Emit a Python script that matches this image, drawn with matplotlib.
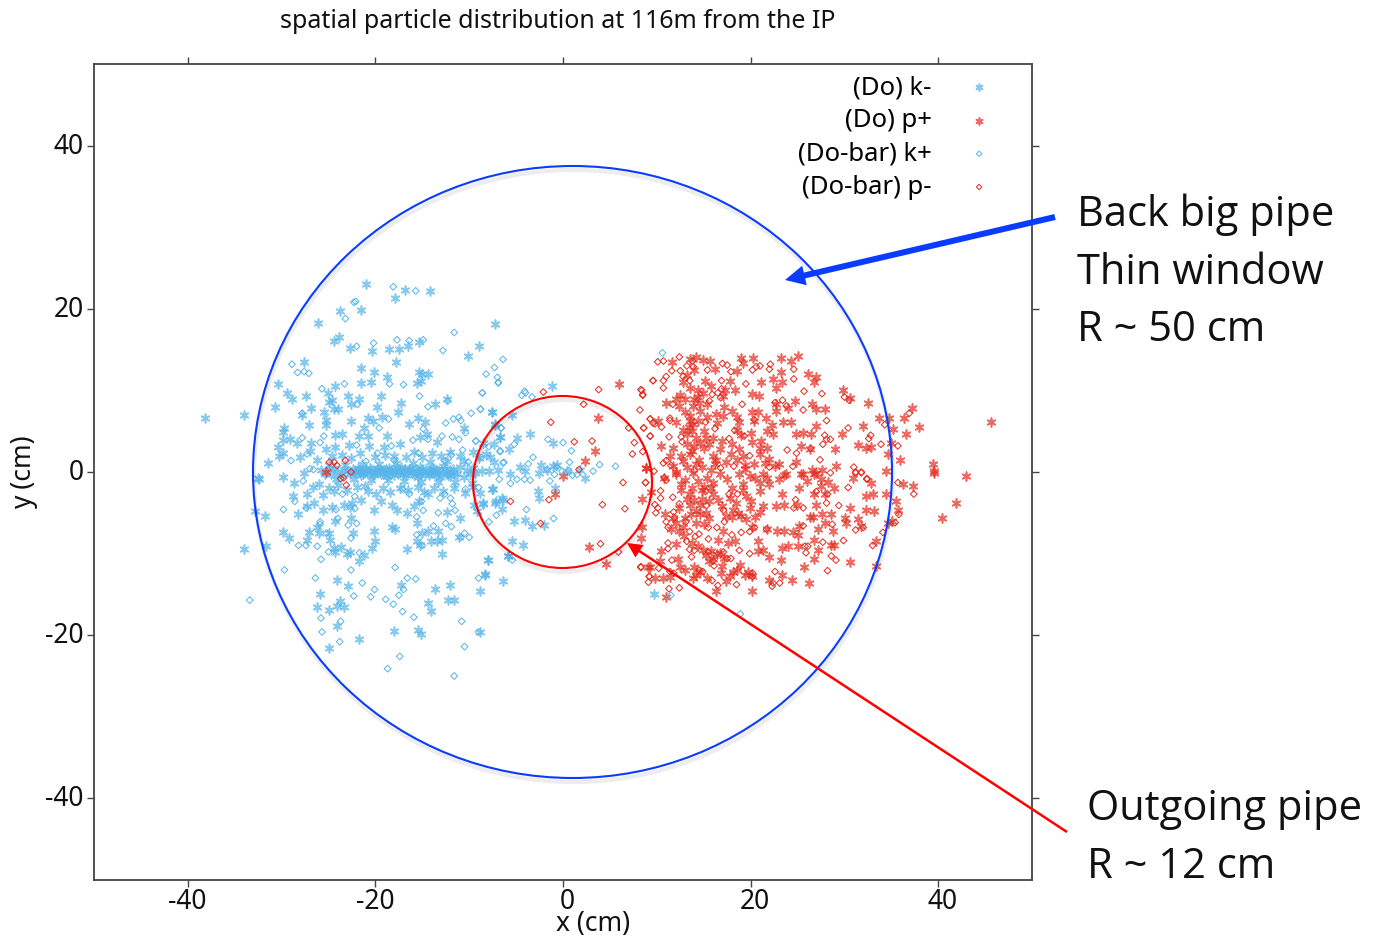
#!/usr/bin/python3
import numpy as np
import matplotlib
matplotlib.use("Agg")
import matplotlib.pyplot as plt
from matplotlib.patches import Ellipse, FancyArrow

# values, (x cm, y cm)
k_minus = [
    (-21.0,23.1),(-16.8,22.25),(-14.2,22.2),(-17.9,21.3),(-23.8,19.7),(-21.5,19.8),(-26.1,18.2),(-7.2,18.1),
    (-23.9,16.6),(-24.4,16.1),(-22.7,15.2),(-20.4,14.8),(-18.6,15.1),(-17.5,15.1),(-16.5,15.5),(-15.4,15.9),
    (-9.0,15.5),(-10.1,14.2),(-27.6,13.5),(-17.8,13.5),(-21.5,12.7),(-20.1,12.3),(-15.4,12.3),(-14.4,12.0),
    (-15.0,12.0),(-18.8,11.6),(-21.5,10.9),(-20.5,11.0),(-15.6,10.9),(-15.1,11.2),(-30.4,10.8),(-24.3,10.6),
    (-25.1,9.7),(-29.4,9.7),(-27.4,9.3),(-28.9,9.0),(-22.9,9.3),(-19.4,9.3),(-24.6,8.8),(-24.9,8.6),
    (-21.8,9.0),(-12.4,9.0),(-17.3,8.5),(-13.6,8.3),(-22.6,8.3),(-30.7,8.0),(-26.9,7.9),(-24.4,7.7),
    (-24.0,7.7),(-19.8,8.0),(-17.6,7.4),(-7.6,7.4),(-25.5,7.4),(-25.3,6.4),(-34.0,7.0),(-38.2,6.6),
    (-27.8,7.0),(-20.8,6.6),(-20.3,6.3),(-19.3,6.7),(-15.5,6.6),(-22.6,6.3),(-27.1,5.8),(-16.4,5.9),
    (-14.7,6.1),(-21.2,5.4),(-29.7,5.4),(-29.8,4.9),(-25.3,5.8),(-10.6,5.4),(-7.2,5.8),(-23.6,4.7),
    (-24.3,4.5),(-21.8,4.4),(-20.8,4.4),(-18.8,4.4),(-15.2,4.3),(-14.5,4.6),(-29.1,4.1),(-29.9,3.9),
    (-28.4,3.6),(-26.9,3.6),(-13.4,3.7),(-6.7,4.3),(-30.4,3.1),(-25.3,2.8),(-24.3,3.1),(-22.8,3.3),
    (-20.7,3.2),(-19.1,3.1),(-17.4,3.4),(-29.9,2.3),(-30.3,2.0),(-31.4,1.1),(-28.0,1.8),(-27.0,2.6),
    (-29.9,-0.6),(-32.5,-0.7),(-27.6,-0.1),
    # dense band around y = 0
    (-25.8,0.2),(-25.4,-0.3),(-25,0.4),(-24.7,-0.2),(-24.4,0.5),(-24,0),(-23.7,-0.4),(-23.4,0.3),(-23,0.1),
    (-22.7,-0.3),(-22.4,0.4),(-22.1,-0.1),(-21.8,0.2),(-21.5,-0.4),(-21.2,0.3),(-20.9,0),(-20.6,0.5),
    (-20.3,-0.3),(-20,0.1),(-19.7,0.4),(-19.4,-0.2),(-19.1,0.2),(-18.8,-0.5),(-18.5,0.5),(-18.2,0),
    (-17.9,0.3),(-17.6,-0.3),(-17.3,0.6),(-17,0.1),(-16.7,-0.4),(-16.4,0.4),(-16.1,-0.1),(-15.8,0.3),
    (-15.5,-0.6),(-15.2,0.6),(-14.9,0),(-14.6,0.3),(-14.3,-0.4),(-14,0.5),(-13.7,-0.1),(-13.4,0.3),
    (-13.1,-0.6),(-12.8,0.7),(-12.4,0),(-12,-0.5),(-11.7,0.4),(-11.3,-0.2),(-11,0.6),(-10.6,-0.6),
    (-10.2,0.2),(-9.9,-0.3),(-9.6,0.5),
    (-22.2,0.1),(-21.9,0.5),(-21.6,0),(-21.3,-0.2),(-21,0.4),(-20.7,-0.1),(-20.4,0.2),(-20.1,-0.4),(-19.8,0),
    (-19.5,0.3),(-19.2,-0.3),(-18.9,0.4),(-18.6,-0.1),(-18.3,0.3),(-18,-0.4),(-17.7,0.5),(-17.4,0),(-17.1,-0.3),
    (-16.8,0.4),(-16.5,0),(-16.2,0.5),(-15.9,-0.4),(-15.6,0.1),(-15.3,-0.2),(-15,0.4),(-14.7,-0.4),(-14.4,0.1),
    (-14.1,-0.1),(-13.8,0.4),(-13.5,-0.4),(-13.2,0.1),(-12.9,-0.2),(-12.6,0.4),(-12.3,-0.4),(-12,0.2),(-11.6,-0.1),
    (-25,0.9),(-24.2,-0.8),(-23.2,0.9),(-22.3,-0.9),(-21.4,1),(-20.5,-1),(-19.6,1),(-18.7,-1),(-17.8,1.1),
    (-16.9,-1.1),(-16,1.1),(-15.1,-1.2),(-14.2,1.2),(-13.3,-1.2),(-12.4,1.3),(-11.5,-1.2),(-10.6,1.3),(-9.7,-1.3),
    (-26.2,1.5),(-24.6,1.9),(-23.6,2.1),(-22.6,1.7),(-21.6,2.3),(-20,1.8),(-19,2.1),(-18,1.9),(-16.7,1.8),
    (-15.9,2.4),(-15,1.8),(-14,2.3),(-13,2),(-12,2.4),(-11,1.9),(-9.6,2.5),(-9,1.7),(-8.2,2.2),(-7.4,1.2),
    (-26,-1.5),(-25,-2),(-24,-1.6),(-23,-2.2),(-22,-1.8),(-20.8,-2.3),(-19.2,-1.9),(-18.4,-2.5),(-17.4,-1.9),
    (-16.5,-2.2),(-15.5,-1.8),(-14.8,-2.5),(-13.7,-1.9),(-12.8,-2.3),(-11.6,-2),(-10.5,-2.6),(-9.6,-1.8),(-8.8,-2.6),
    # below the band
    (-32.4,-0.8),(-28.7,-1.4),(-26.7,-1.8),(-28.8,-3.0),(-27.3,-2.7),(-25.6,-2.8),(-24.4,-2.3),(-26.5,-3.8),
    (-27.3,-4.2),(-25.6,-4.7),(-28.2,-5.2),(-31.8,-5.4),(-32.8,-4.8),(-24.6,-4.3),(-23.4,-4.1),(-22.5,-3.8),
    (-22.7,-4.3),(-21.5,-3.4),(-21.1,-1.7),(-19.9,-2.7),(-19.4,-3.5),(-20.2,-4.7),(-18.2,-4),(-17.7,-4.6),
    (-16.6,-5),(-15.9,-4.2),(-15.4,-3.6),(-14.4,-2.7),(-15.6,-6.2),(-12.4,-4.9),(-11,-5.6),(-9.5,-4),(-8.5,-3.8),
    (-7.2,-3.8),(-6.4,-3.4),(-7.6,-2.1),(-24.3,-6.0),(-22.6,-5.6),(-26.2,-6.8),(-26,-7.5),(-29.9,-7.3),
    (-29.2,-8.1),(-31.7,-9.1),(-34,-9.4),(-27.1,-7.4),(-27.3,-8.3),(-25,-7.5),(-24.8,-8.3),(-24.4,-9.3),
    (-23.7,-9.2),(-24.3,-9.8),(-22.4,-7.5),(-20.2,-7.2),(-20,-8.4),(-20.4,-9.3),(-22.7,-9.8),(-23,-10.1),
    (-21.2,-10.2),(-21.8,-10.9),(-18.2,-6.8),(-17.9,-7.0),(-16.6,-9.4),(-15.6,-8.5),(-15.2,-9),(-15,-7.5),
    (-14.4,-7.2),(-13.3,-7.2),(-14.1,-8.5),(-13.4,-8.5),(-12.9,-8.3),(-12.9,-10),(-11.1,-8),(-8,-10.8),
    (-5.9,-10.3),(-8.3,-12.6),(-6.4,-13.3),(-8.9,-14.6),(-12,-13.9),(-13.6,-14.3),(-17.3,-13.8),(-22.9,-14),
    (-24.1,-13.2),(-25.9,-14.9),(-23.8,-15.8),(-24.1,-16.4),(-23.4,-16.6),(-26.2,-16.5),(-24.9,-16.9),
    (-24.1,-18.9),(-21.8,-20.5),(-24.9,-21.6),(-18,-19.5),(-15.5,-19.4),(-15.1,-19.8),(-14.4,-16),(-14.1,-17),
    (-12.3,-15.7),(-11.6,-15.7),(-8.8,-19.6),
    # inside the small circle
    (-7.6,7.4),(-5.4,7),(-1.2,10.5),(-7.2,5.9),(-3.5,4.7),(-6.7,4.3),(-4.9,4.2),(-1.1,3.6),(-5.8,2.8),(-8.5,3.6),
    (-7.4,3.4),(-7.8,1.8),(-8.6,0.1),(-9.4,-0.1),(-7.9,0.1),(-6.9,0.3),(-5.6,-0.2),(-4.6,0.6),(-4,0.1),(-2.6,-0.1),
    (-2.3,0.9),(-1.7,0.2),(-0.6,0.9),(-1.1,0.7),(0.4,0.1),(2.3,-0.7),(1.8,0.2),(-7.5,-2.1),(-2.7,-2.3),(-2.6,-3.2),
    (-0.8,-2),(-7.1,-3.6),(-6.5,-3.2),(-8.5,-3.9),(-6.5,-4.5),(-9.2,-4.8),(-5.2,-6),(-4,-5.9),(-3.3,-6.6),(-2,-6.5),
    (-5.4,-8.4),(-4.3,-8.9),(-8.0,-10.8),(-5.9,-10.3),(-8.3,-12.5),(9.7,-15),
]

k_plus = [
    (-18.1,22.7),(-15.7,22.2),(-22.1,20.9),(-22.3,20.8),(-23.2,18.8),(-11.6,17.1),(-17.7,16.2),(-16.4,16.1),
    (-14.9,16.2),(-20.2,15.8),(-22,15.4),(-12.8,14.9),(-6.4,13.8),(-28.9,13.2),(-28.3,12.2),(-27.6,12.3),
    (-27.1,12.1),(-7.3,12.8),(-8.2,12),(-7,11.6),(-6.9,10.9),(-23.3,10.8),(-18.5,10.8),(-17,10.7),(-25.7,10.2),
    (-8.6,9.7),(-15.3,9.3),(-12.3,8.7),(-21.9,8.3),(-14.4,8),(-8.8,7.7),(-9.8,7.2),(-27.8,7.2),(-18.6,6.5),
    (-12.5,6),(-11.7,6.5),(-11.1,6.7),(-10.9,6.3),(-19.6,5.4),(-14.9,5.3),(-6.6,5.4),(-25.5,4.4),(-25.9,3.6),
    (-27.8,4.2),(-12.9,4.4),(-11.8,4.3),(-11.1,4),(-10.4,4.8),(-16,3.9),(-14.4,4),(-9.3,3.8),(-22,3.3),(-18.3,3.2),
    (-27.3,2.2),(-29,1.4),(-19.8,2.3),(-15.4,2.3),(-10.7,2.7),(-6.7,2.5),(-11.9,2.1),(-18,1.4),(-21,1.3),(-12.6,1.4),
    (-10.1,1.2),(-6.4,1.1),(-26.6,0.3),(-27,0.4),
    (-27.7,-1.1),(-23.5,-2.7),(-22.2,-3),(-17.1,-2.1),(-16.4,-2.7),(-15.1,-3.6),(-13.1,-3.2),(-12.6,-2.7),(-10.4,-2.1),
    (-12,-3.2),(-11.8,-3.9),(-28.6,-3.6),(-29.8,-4.6),(-27.4,-4.4),(-24.2,-4.6),(-22.2,-4.5),(-14.9,-4.7),(-13.3,-5),
    (-11.5,-4.7),(-15.6,-5.5),(-24,-5.7),(-25.9,-6.1),(-25.9,-6.4),(-22.9,-6.5),(-22,-6.3),(-13.8,-6.6),(-12.5,-6.3),
    (-11.9,-6.7),(-25.2,-7.5),(-15.6,-7.7),(-22.6,-8.1),(-10.9,-8),(-10.5,-7.5),(-10,-8),(-28.2,-9),(-27.4,-9),
    (-26.2,-9.1),(-15,-9),(-25,-9.8),(-21.7,-9.9),(-25.8,-10.7),(-29.7,-12),(-22.6,-12),(-17.9,-11.7),(-26.4,-13),
    (-16.6,-13),(-15.7,-13.1),(-9,-13),(-21.4,-13.6),(-20.1,-14.4),(-17,-14.4),(-22.3,-15.2),(-20.5,-15.3),(-18.9,-15.6),
    (-18.1,-16.2),(-17.5,-15.1),(-33.4,-15.7),(-17.1,-17.1),(-15.9,-17.8),(-25.8,-17.9),(-23.7,-18.3),(-10.8,-18.3),
    (-25.7,-19.6),(-9,-19.6),(-23.8,-20.8),(-10.5,-21.4),(-17.4,-22.6),(-18.7,-24.1),(-11.6,-25),
    (-6.9,11),(-8.6,9.7),(-4.1,9.9),(-4.4,9.4),(-4,9.7),(-3.3,9.2),(-8.8,7.7),(-6.6,5.4),(-9.3,3.8),(-5.2,3.4),
    (-1.6,4),(0,3.6),(0.9,2.6),(-7.9,3.1),(-6.7,2.6),(-3.2,1.8),(-8.7,1.8),(0.7,1.2),(3.9,0.9),(5.6,0.7),(-6.3,1.2),
    (3.2,0.1),(-3.7,1),(-0.7,0.6),(-1.7,0.3),(-0.1,0.1),(-0.9,-0.3),(1.5,-0.3),(1,-0.4),(0.6,0.2),(-6.8,-0.9),
    (-5.6,-1.4),(-4.9,-0.9),(-4.1,-0.9),(-3.5,-1),(-1.4,-1.1),(-9,-1.9),(-3.9,-4.6),(-1,-5.7),(-7.1,-5.3),(-7.9,-6.1),
    (-5.4,-10.8),(10.6,14.6),(11.5,-15.1),(18.9,-17.4),
]

p_plus = [
    (-25.3,0),(14.2,14.1),(13.5,13.8),(11.6,13.5),(14.9,13.7),(15.7,13.6),(16.2,12.6),(15.1,11.2),(12.8,11),(19,14),
    (20.3,14),(19.2,13.3),(23.2,14),(25,14.2),(24.3,13.6),(23.2,12.2),(22.4,11.4),(23.3,11),(21.1,11),(26.1,12),
    (27,11.6),(26.8,11),(18.3,10),(17.3,10),(17.1,9.3),(20.1,9.5),(20.9,9.3),(17.8,11.2),(13.5,10.3),(14.4,10),
    (14.9,9.7),(11,8.4),(12.4,8.1),(13,7.3),(13.9,8.1),(13.5,6.9),(14.6,7.5),(16.3,7.1),(17.1,6.9),(20.1,7.4),
    (20.8,7.4),(21.6,6.6),(22.7,10.3),(22.7,8.3),(22.7,7.5),(24,7.9),(24.7,8.7),(26.5,8.3),(27,7.7),(27.9,7.7),
    (29.9,10),(30.6,9.1),(32.5,8.4),(37.2,7.9),(36.4,6.6),(33.7,6.6),(34.8,6.6),(35.2,5.3),(37.9,5.5),(36.6,4.6),
    (32,5.6),(29.7,4.7),(27,5.6),(23.5,6.1),(24.3,6.1),(22.3,5.8),(18.5,6.7),(18.8,6.1),(20.4,6.3),(18.5,5.2),
    (13.9,5.9),(13.7,5),(13.5,6.3),(10.1,6.3),(12.1,6.1),(21.7,5),(22.4,4.7),(24.8,4.7),(25.6,4.8),(26.4,4.6),
    (20.2,3.7),(21.1,3.8),(21.8,3),(18.8,2.8),(17.9,2.2),(16.7,2.8),(15.6,3.4),(13.7,2.6),(12.6,2),(11.7,3),
    (10.5,3.2),(25.4,3.2),(26.3,2.8),(29,2.8),(31.4,3.3),(32.3,2.9),(32.8,3.1),(35.9,1.5),(34.6,2.2),(35,3.6),
    (16.3,1.5),(16.2,1),(15.8,0.3),(12.8,1.3),(13.5,2.2),(20.4,1),(21.5,1.1),(22.6,0.7),(23.8,-0.3),(25.6,-0.3),
    (26.5,0.3),(27,-0.1),(27.6,0.3),(29.1,0.7),(30.9,-0.7),(34.4,0.1),(39.4,1),(39.5,0.1),(43,-0.5),(8.8,0.5),
    (19.9,-0.5),(21.3,-0.3),(21,2.2),(18.8,-0.3),(16.7,-0.3),(13.9,-0.1),(11.7,0.7),(10.8,-0.7),(45.6,6.1),
    (12.6,-1.5),(12.1,-0.3),(15.3,-0.7),(16,-1.3),(14.4,-1.1),(19.2,-1.5),(21.8,-0.7),(23.6,-0.4),(25.4,-0.3),
    (26.8,-0.3),(25.2,-1.9),(27.5,-1.7),(28.9,-1.9),(32.8,-1.3),(36.2,-1.5),(37.3,-1.7),(39.6,-0.1),(34.4,-2.7),
    (33,-2.7),(32.3,-3),(21,-2.3),(23.4,-2.7),(26.8,-2.7),(27.9,-2.7),(13.5,-4),(14.6,-4),(13.5,-2.7),(16,-2.7),
    (17.8,-3.2),(19.5,-3),(18.1,-4.6),(18.7,-5),(19.9,-4.4),(21.3,-4.2),(22.7,-4.2),(23.6,-4),(24.9,-4),(27,-4),
    (30.6,-4.4),(32.3,-4.6),(33.2,-4.8),(35.5,-3.6),(35.7,-4.6),(40.4,-5.6),(41.9,-3.8),(26.3,-5.5),(26.6,-5.5),
    (27.6,-5.1),(28.6,-5.1),(30.1,-5.6),(30.2,-6.2),(31.5,-5.7),(31.8,-6.6),(34.6,-6.2),(35.1,-6),(27.9,-6.3),
    (27.2,-7.0),(28.8,-7.2),(25.2,-6.6),(25.1,-7.7),(24.5,-7.3),(23.6,-7.2),(22.8,-7.2),(21.8,-7),(19.5,-5.8),
    (20.1,-6.8),(17.1,-7.2),(15.6,-5.6),(14.6,-5.2),(12.8,-6.8),(12.4,-7.2),(10.9,-5.2),(11.7,-5.6),(16.5,-8.3),
    (13.7,-8.7),(14.4,-9.1),(18.3,-8.5),(17.6,-8.7),(20.8,-8.5),(21.3,-9.5),(22,-10.4),(20.8,-9.7),(23.4,-9.3),
    (24,-9.1),(25,-9.1),(26.8,-8.3),(28.9,-8.9),(28.6,-9),(27.2,-9.6),(26.8,-10.7),(23.2,-10.8),(25.7,-11.7),
    (30.6,-11),(33.4,-8.5),(33.4,-11.5),(23.4,-12.6),(24.4,-13.2),(26.2,-13.6),(22,-13.2),(20.1,-14.6),(19.7,-12.2),
    (20.1,-12.8),(16.7,-9.9),(15.8,-9.7),(15.6,-10.9),(16,-10.7),(17.2,-10.5),(18.1,-12.2),(17.8,-12.8),(18.5,-12),
    (17.4,-13.4),(14,-11.7),(14.6,-12.2),(13.9,-13),(10.5,-9.7),(10.3,-10.9),(12.3,-10.7),(12.5,-11.7),(9.1,-11.7),
    (9.8,-13),(10.7,-13),(11.4,-12.9),(11,-15.3),(16.3,-14.6),
    (6,10.8),(3.7,6.6),(3.4,2.6),(2.3,1.4),(0,-0.5),(-0.8,-2.7),(2.8,-9.2),(4.6,-11.3),(8.8,0.5),(8.4,-3.3),(8.4,-6.8),
    (8.3,-8.1),(9.4,-2.5),(9.3,-11.6),
    # fill in the dense part
    (12,8.9),(12.5,9.4),(13,9),(14,8.9),(14.5,8.5),(15.3,8.3),(13.4,5.5),(13.2,4.6),(14.2,4.2),(15,5),(16,4.2),(15,3),
    (16,2),(14.5,1.5),(13.2,0.6),(12,0),(11.4,1.9),(17.4,1.2),(18.5,1.5),(19.4,0.4),(12.6,-2.2),(13.2,-3.3),(14,-3.4),
    (14.8,-2.2),(16.5,-3.4),(14.2,-4.8),(15.2,-5),(13,-5.6),(12,-6.2),(11.5,-7),(12.9,-7.9),(14.9,-9.5),(15.2,-10.2),
    (16.4,-10),(17,-11.5),(16.8,-12.4),(18.9,-11.4),(19.4,-12.6),(14.2,-12.6),(13,-12),(15.4,-13),(12,-8.8),(18,-5.5),
    (19,-5.4),(20.5,-5.5),(21,-4.9),(20,-3.6),(22,-1.5),(23,-0.9),(17.5,-0.9),(18,-1.9),(19.4,0.9),(20.5,-0.7),(21,-1.4),
    (19.2,1.9),(17.2,8),(18,7.5),(19,4.5),(20,4.8),(21,3),(22,1.6),(23,1),(24.8,1.2),(27.5,-0.8),(28.2,-1.2),(26,-1.1),
    (14.6,3.6),(15.2,4.2),(14,3.2),(13.2,3.4),(14.8,0.6),(14.2,1),(15,-1.8),(15.8,-2),(13,-1),(13.8,-1.9),(14.2,-6.2),
    (15,-6.4),(13.6,-5.2),(14.8,-3.3),(12.4,-4.4),(15.6,-3.6),(16.4,6),(15.4,6.7),(14.4,6.2),(12.8,5.2),(14.4,9.2),
    (13.2,11.9),(14,12.5),(15.8,10.6),(18.6,12.4),(18,3.4),(17,3.8),(19.2,-2.2),(18.4,-3.8),(17,-4.2),(17.4,-5.4),
]

p_minus = [
    (-24.9,1.2),(-24.4,1.2),(-24.1,0.8),(-23.2,1.4),(-22.6,0),(-23.4,-0.7),(-23.7,-0.8),(-23.1,-1.6),
    (-2.1,9.8),(3.8,10.1),(2.2,8.3),(-1.3,6.1),(1.2,3.7),(3.1,3.8),(1.7,0.3),(-5.6,-3.6),(-1.5,-3.4),(4.2,-4),(6.4,-1.3),
    (6.6,-4.5),(-2.4,-6.3),(4.0,-8.8),(5.9,-9.8),(8.3,10.1),(8.5,9.5),(8.2,7.6),(8.6,5.4),(9.3,4.4),(7,5.4),(7.6,3.6),
    (7.4,2.2),(8.5,2.5),(8.8,-1.3),(9.7,0.1),(8.3,-11.6),(9.3,6.5),(9.8,5.9),(9.2,-12.8),(9.6,11.2),
    (10.1,13.5),(10.7,13.6),(12.4,14.1),(13.8,13.6),(13.2,13),(13.9,12.9),(11.6,12.4),(11,11.7),(10.7,11.2),(10.7,10.3),
    (12.5,12.4),(12.8,11.7),(9.6,11.2),(13.5,11.2),(15.4,12.5),(17,13.3),(17.5,13.1),(17.9,12.3),(20.2,12.5),(20.6,12.9),
    (21,13),(22.1,13.2),(22,12.6),(24.6,12.6),(24.6,11.4),(19.5,10.8),(16.9,11.2),(16.9,10.2),(16.5,9.7),(16.8,9.1),
    (15.9,9.5),(15.6,8.7),(25.7,9.9),(27.6,9.6),(30,9.2),(30.5,8.8),(8.4,10),(8.5,9.4),(11.7,8.3),(22.6,8.5),(23.8,8.1),
    (23.4,8.8),(19.1,8.3),(25.6,7.6),(28.1,6.3),(9.3,6.5),(9.6,6),(10.5,5.5),(11.4,6.6),(11.4,6.3),(15.2,6.1),(16.2,5.3),
    (8.6,5.4),(9.3,4.4),(18.3,5.1),(19.3,4.4),(17.7,4.1),(20.4,6.4),(30.4,5.4),(34.3,5.8),(36.9,7.2),(27.9,4.5),(28.1,4),
    (28.5,4),(27.7,3.4),(32.8,4.5),(32.6,4.1),(33.9,3.4),(35.7,3.2),(11.3,4.3),(12.6,4.3),(12.7,3.7),(23.9,2.7),(24.9,2.3),
    (19.9,2),(26.4,2.9),(27.4,1.5),(11.5,0.8),(10.7,1.1),(11,1.4),(16.8,0.5),(18.2,0.7),(22,0.6),(24.5,0.7),(14,0.2),
    (31,0.6),(31.2,0),(31.8,0),(32.4,-0.8),(28.5,-0.1),(10.8,-0.7),
    (8.8,-1.3),(11,-1),(10.4,-2.3),(10.4,-3.2),(11.7,-3.1),(12.4,-3.9),(9.8,-4),(10.1,-4.4),(9.9,-5),(11,-6.1),(11.8,-4.9),
    (11.9,-5.6),(11.2,-6.8),(13.1,-6.1),(13.5,-7.3),(15.2,-2.4),(15.3,-4.1),(17.7,-2.7),(18.6,-2.7),(17.1,-4.7),(17.2,-6.1),
    (15.5,-6.8),(16.4,-6.8),(14.5,-7.6),(14.1,-7.9),(15.5,-8.2),(18,-7.7),(19,-7.4),(20.4,-6.8),(19.9,-7.3),(21.7,-7),
    (13.2,-8.5),(11.2,-8.7),(11.2,-9.4),(13.5,-9.5),(14,-9.6),(13.7,-10.4),(11.6,-10.8),(15.5,-9.8),(17.1,-9.8),(17.5,-10.6),
    (17.9,-10.6),(18.8,-9.6),(19.9,-10),(16,-10.9),(16.1,-11.5),(10.2,-11.8),(8.3,-11.7),(11.8,-12.4),(11.4,-12.2),(9.2,-12.8),
    (9.1,-13.5),(14.5,-12),(14.9,-12.2),(20.2,-12.4),(20.2,-12.8),(15.9,-13.3),(16.5,-13.9),(18.5,-13.8),(12.4,-14.2),
    (11.3,-14.3),(22.6,-12.2),(22.4,-13.6),(22.3,-14),(23.1,-13.6),(28.2,-12.1),(29.1,-10.8),(28.6,-10.3),(27.7,-8.6),
    (25.8,-9.1),(26.1,-9.1),(25.9,-9.9),(29.9,-8.4),(28.7,-6.4),(31.2,-7.1),(32,-6.8),(34.1,-7.4),(33,-9),(35.4,-6.2),
    (35.8,-5.2),(37.4,-2.7),(35.7,-1.3),(30.4,-1.9),(32.4,-0.9),(31.8,-0.1),(31.2,-0.1),(29.4,-4.1),(28.1,-3.8),(27,-2.4),
    (28.2,-2.7),(24.8,-3.4),(24.6,-4.4),(25.6,-4.4),(25.6,-6.6),
]

tick_vals = [-40, -20, 0, 20, 40]
title_text = "spatial particle distribution at 116m from the IP"
blue = "#56b4e9"
red = "#e3291c"

W, H = 1379, 936
fig = plt.figure(figsize=(W / 100, H / 100), dpi=100)
ax = fig.add_axes([94 / W, 1 - 880 / H, 938 / W, 816 / H])
ax.set_xlim(-50, 50)
ax.set_ylim(-50, 50)

star = (6, 2, 0)
k_m = np.array(k_minus)
p_p = np.array(p_plus)
k_p = np.array(k_plus)
p_m = np.array(p_minus)
ax.scatter(k_m[:, 0], k_m[:, 1], marker=star, s=38, c=blue, linewidths=1.2, alpha=0.72, label="(Do) k-")
ax.scatter(p_p[:, 0], p_p[:, 1], marker=star, s=38, c=red, linewidths=1.2, alpha=0.7, label="(Do) p+")
ax.scatter(k_p[:, 0], k_p[:, 1], marker="D", s=12, facecolors="none", edgecolors=blue, linewidths=0.7, label="(Do-bar) k+")
ax.scatter(p_m[:, 0], p_m[:, 1], marker="D", s=12, facecolors="none", edgecolors=red, linewidths=0.7, label="(Do-bar) p-")

for s in ax.spines.values():
    s.set_color("#444444")
    s.set_linewidth(1.3)
ax.set_xticks(tick_vals)
ax.set_yticks(tick_vals)
ax.tick_params(top=True, right=True, direction="out", length=5, width=1, color="#444444", labelbottom=False, labelleft=False)

leg = ax.legend(loc="upper right", bbox_to_anchor=(0.971, 0.999), frameon=False, markerfirst=False,
                prop={"family": "Noto Sans", "size": 18.5}, labelspacing=0.32, handletextpad=1.25, handlelength=1.2,
                scatterpoints=1, borderaxespad=0, markerscale=0.8)

# overlay in picture pixels for the hand drawn annotations
ov = fig.add_axes([0, 0, 1, 1])
ov.set_xlim(0, W)
ov.set_ylim(H, 0)
ov.axis("off")
ov.patch.set_alpha(0)

tick_font = dict(fontsize=19, family="Noto Sans", color="#111111")
for v, label in zip(tick_vals, ["-40", "-20", "0", "20", "40"]):
    ov.text(563 + v * 9.4 + (4 if v >= 0 else 0), 902, label, ha="center", va="center", **tick_font)
    ov.text(84, 473 - v * 8.15, label, ha="right", va="center", **tick_font)
ov.text(593, 924, "x (cm)", ha="center", va="center", **tick_font)
ov.text(24, 472, "y (cm)", ha="center", va="center", rotation=90, **tick_font)
ov.text(558, 21, title_text, ha="center", va="center", fontsize=18, family="Noto Sans", color="#111111")

for cx, cy, w, h, col in [(572.5, 472, 639, 612, "#0a3cff"), (562.5, 482, 179, 172, "#ff0000")]:
    ov.add_patch(Ellipse((cx + 1, cy + 4), w, h, fill=False, ec="#000000", lw=3, alpha=0.07))
    ov.add_patch(Ellipse((cx, cy), w, h, fill=False, ec=col, lw=1.5))

ov.add_patch(FancyArrow(1055, 217, -270, 63, width=6, head_width=20, head_length=20, length_includes_head=True,
                        color="#0a3cff", lw=0))
ov.add_patch(FancyArrow(1067, 832, -440, -289, width=2.5, head_width=15, head_length=15, length_includes_head=True,
                        color="#ff0000", lw=0))

note_font = dict(fontsize=30, family="Open Sans", color="#111111", ha="left", va="center")
ov.text(1077, 215, "Back big pipe", **note_font)
ov.text(1077, 273, "Thin window", **note_font)
ov.text(1077, 330, "R ~ 50 cm", **note_font)
ov.text(1087, 809, "Outgoing pipe", **note_font)
ov.text(1087, 867, "R ~ 12 cm", **note_font)

fig.savefig("out.png", dpi=100)
